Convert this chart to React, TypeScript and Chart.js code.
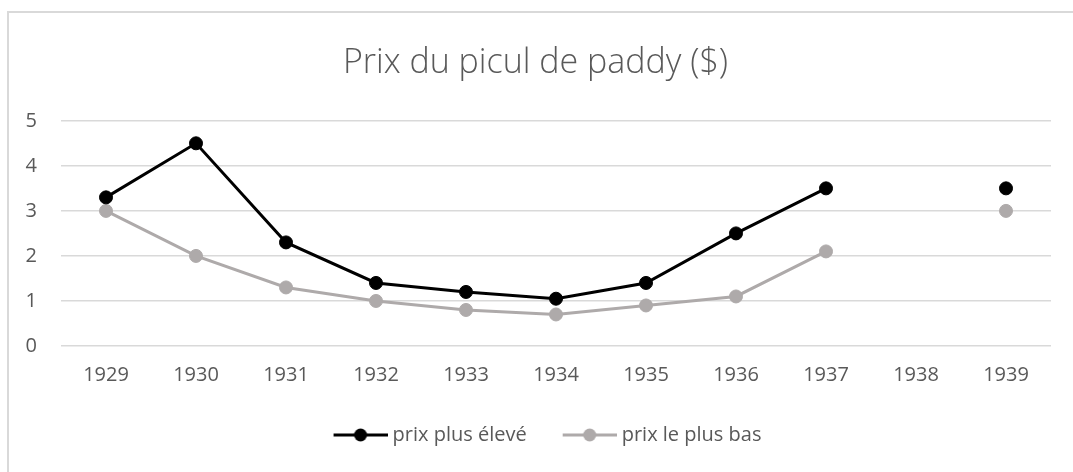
import React, { useEffect, useRef } from "react";
import { Chart, registerables } from "chart.js";

Chart.register(...registerables);

const categories = ["1929", "1930", "1931", "1932", "1933", "1934", "1935", "1936", "1937", "1938", "1939"];
const highPrices: (number | null)[] = [3.3, 4.5, 2.3, 1.4, 1.2, 1.05, 1.4, 2.5, 3.5, null, 3.5];
const lowPrices: (number | null)[] = [3.0, 2.0, 1.3, 1.0, 0.8, 0.7, 0.9, 1.1, 2.1, null, 3.0];
const seriesNames = ["prix plus élevé", "prix le plus bas"];
const titleText = "Prix du picul de paddy ($)";

const FONT = "'Open Sans', 'Noto Sans', sans-serif";
const TEXT = "#595959";
const GRID = "#d9d9d9";
const BLACK = "#000000";
const GREY = "#aeaaaa";

const BOX_W = 73;

function legendIcon(color: string): HTMLCanvasElement {
  const c = document.createElement("canvas");
  const w = BOX_W + 10;
  c.width = w;
  c.height = 16;
  const ctx = c.getContext("2d")!;
  const x1 = w - 54;
  ctx.strokeStyle = color;
  ctx.lineWidth = 3;
  ctx.beginPath();
  ctx.moveTo(x1, 8);
  ctx.lineTo(w, 8);
  ctx.stroke();
  ctx.fillStyle = color;
  ctx.beginPath();
  ctx.arc(x1 + 27, 8, 6.5, 0, Math.PI * 2);
  ctx.fill();
  return c;
}

export default function App() {
  const ref = useRef<HTMLCanvasElement>(null);

  useEffect(() => {
    if (!ref.current) return;
    const icons = [legendIcon(BLACK), legendIcon(GREY)];
    const chart = new Chart(ref.current, {
      type: "line",
      data: {
        labels: categories,
        datasets: [
          {
            label: seriesNames[0],
            data: highPrices,
            borderColor: BLACK,
            backgroundColor: BLACK,
            borderWidth: 3,
            pointRadius: 6.5,
            pointBorderWidth: 1,
            pointBackgroundColor: BLACK,
            pointBorderColor: BLACK,
            spanGaps: false,
            tension: 0,
          },
          {
            label: seriesNames[1],
            data: lowPrices,
            borderColor: GREY,
            backgroundColor: GREY,
            borderWidth: 3,
            pointRadius: 6.5,
            pointBorderWidth: 1,
            pointBackgroundColor: GREY,
            pointBorderColor: GREY,
            spanGaps: false,
            tension: 0,
          },
        ],
      },
      options: {
        animation: false,
        responsive: false,
        maintainAspectRatio: false,
        layout: { padding: { left: 20, right: 22, top: 0, bottom: 17 } },
        plugins: {
          title: {
            display: true,
            text: titleText,
            color: TEXT,
            font: { family: FONT, size: 34, weight: "300" as any, lineHeight: 1.2 },
            padding: { top: 43, bottom: 37 },
          },
          legend: {
            display: true,
            position: "bottom",
            labels: {
              color: TEXT,
              font: { family: FONT, size: 20 },
              usePointStyle: true,
              pointStyleWidth: BOX_W,
              padding: 12,
              generateLabels: (c: any) => {
                const items = Chart.defaults.plugins.legend.labels.generateLabels(c);
                return items.map((it: any, i: number) => ({ ...it, pointStyle: icons[i] }));
              },
            },
          },
          tooltip: { enabled: false },
        },
        scales: {
          x: {
            offset: true,
            grid: { display: false, drawTicks: false, offset: true },
            border: { display: false },
            ticks: { color: TEXT, font: { family: FONT, size: 20 }, padding: 17, maxRotation: 0 },
            afterFit: (s: any) => {
              s.height = 67;
            },
          },
          y: {
            min: 0,
            max: 5,
            grid: { color: GRID, lineWidth: 1.5, drawTicks: false },
            border: { display: false },
            ticks: { stepSize: 1, color: TEXT, font: { family: FONT, size: 20 }, padding: 24 },
            afterFit: (s: any) => {
              s.width = 41;
            },
          },
        },
      },
    });
    return () => chart.destroy();
  }, []);

  return (
    <div style={{ position: "fixed", left: 0, top: 0, width: 1073, height: 472, overflow: "hidden", background: "#fff" }}>
      <div
        style={{
          position: "absolute",
          left: 7,
          top: 11,
          width: 1100,
          height: 500,
          borderLeft: `2px solid ${GRID}`,
          borderTop: `2px solid ${GRID}`,
        }}
      />
      <canvas ref={ref} width={1073} height={472} style={{ position: "absolute", left: 0, top: 0, width: 1073, height: 472 }} />
    </div>
  );
}
